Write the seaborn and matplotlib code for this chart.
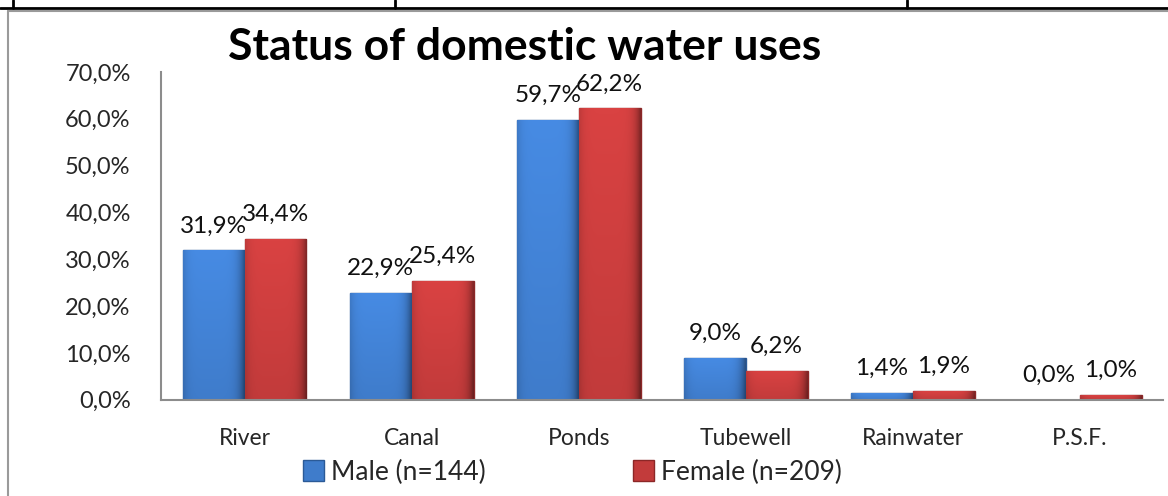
import numpy as np
import pandas as pd
import matplotlib.pyplot as plt
import seaborn as sns
from matplotlib.lines import Line2D
from matplotlib.patches import Rectangle
from matplotlib.colors import to_rgb

# data
categories = ['River', 'Canal', 'Ponds', 'Tubewell', 'Rainwater', 'P.S.F.']
male = [31.9, 22.9, 59.7, 9.0, 1.4, 0.0]
female = [34.4, 25.4, 62.2, 6.2, 1.9, 1.0]
groups = ['Male (n=144)', 'Female (n=209)']
yticks = [0, 10, 20, 30, 40, 50, 60, 70]

df = pd.DataFrame({
    'Source': categories * 2,
    'Percent': male + female,
    'Group': [groups[0]] * len(categories) + [groups[1]] * len(categories),
})

sns.set_style('white')
plt.rcParams['font.family'] = ['Lato', 'DejaVu Sans']

fig = plt.figure(figsize=(11.68, 4.96), dpi=100)
ax = fig.add_axes([0.138, 0.194, 0.858, 0.661])

palette = {groups[0]: '#3f7ccb', groups[1]: '#c23b3b'}
sns.barplot(data=df, x='Source', y='Percent', hue='Group', palette=palette,
            width=0.74, gap=0, saturation=1, legend=False, ax=ax)

ax.set_ylim(0, 70)
ax.set_xlim(-0.5, len(categories) - 0.5)


def shade(color):
    # small bevel-like gradient: lighter top, darker sides
    base = np.array(to_rgb(color))
    ny, nx = 60, 40
    yy = np.linspace(0, 1, ny)[:, None]
    xx = np.linspace(0, 1, nx)[None, :]
    f = 1.0 + 0.12 * (1 - yy) - 0.25 * (np.abs(xx - 0.45) * 2) ** 6
    return np.clip(base[None, None, :] * f[:, :, None], 0, 1)


edges = ['#2b5a97', '#8c2727']
for cont, g, ec in zip(ax.containers, groups, edges):
    img = shade(palette[g])
    for bar in cont:
        bar.set_edgecolor(ec)
        bar.set_linewidth(1.0)
        h = bar.get_height()
        if h > 0:
            x0 = bar.get_x()
            im = ax.imshow(img, extent=[x0, x0 + bar.get_width(), 0, h],
                           aspect='auto', zorder=bar.get_zorder() + 0.1,
                           interpolation='bilinear')
            im.set_clip_path(bar)
    labels = [f'{v:.1f}%'.replace('.', ',') for v in cont.datavalues]
    ax.bar_label(cont, labels=labels, padding=10, fontsize=17.5, color='#111111')

ax.set_ylim(0, 70)
ax.set_xlim(-0.5, len(categories) - 0.5)
ax.set_yticks(yticks)
ax.set_yticklabels([f'{t:.1f}%'.replace('.', ',') for t in yticks], fontsize=17)
ax.tick_params(axis='x', labelsize=16.5, pad=20, length=0)
ax.tick_params(axis='y', pad=22, length=0)
ax.set_xlabel('')
ax.set_ylabel('')
for side in ['top', 'right']:
    ax.spines[side].set_visible(False)
for side in ['left', 'bottom']:
    ax.spines[side].set_color('#8c8c8c')
    ax.spines[side].set_linewidth(1.5)

fig.text(0.449, 0.905, 'Status of domestic water uses', ha='center', va='center',
         fontsize=32, fontweight='bold', color='black')

handles = [Rectangle((0, 0), 1, 1, facecolor=palette[g], edgecolor=e) for g, e in zip(groups, edges)]
fig.legend(handles, groups, loc='center', bbox_to_anchor=(0.49, 0.048), ncol=2,
           frameon=False, fontsize=19, handlelength=0.8, handleheight=0.8,
           handletextpad=0.25, columnspacing=5.6)

# table borders around the chart
fig.add_artist(Line2D([0, 1], [1 - 8 / 496] * 2, color='black', lw=2))
for x in [13, 395, 907]:
    fig.add_artist(Line2D([x / 1168] * 2, [1, 1 - 8 / 496], color='black', lw=2))
fig.add_artist(Line2D([8 / 1168, 1], [1 - 11 / 496] * 2, color='#9a9a9a', lw=1.5))
fig.add_artist(Line2D([8 / 1168] * 2, [0, 1 - 11 / 496], color='#9a9a9a', lw=1.5))

fig.savefig('out.png', dpi=100)
